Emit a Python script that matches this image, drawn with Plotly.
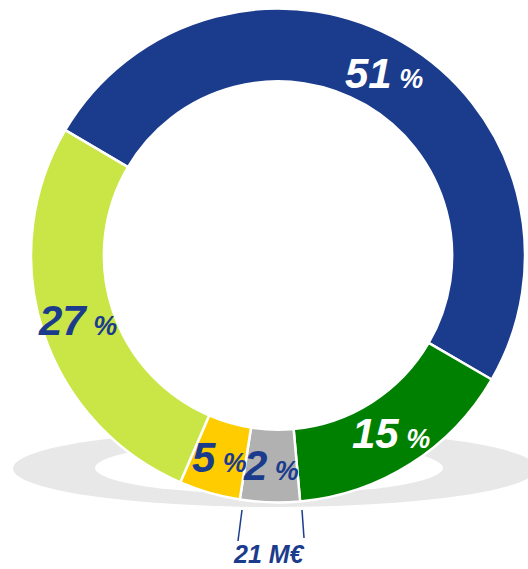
import math
import plotly.graph_objects as go

# ---- data ----
segments = ["Segment A", "Segment B", "Segment C", "Segment D", "Segment E"]
shares = [49.9, 15.2, 3.9, 4.0, 27.0]          # slice sizes
pct_labels = [51, 15, 2, 5, 27]                # printed percentages
slice_colors = ["#1B3C8C", "#008000", "#B1B1B1", "#FFCC00", "#C9E646"]
label_colors = ["#FFFFFF", "#FFFFFF", "#1B3C8C", "#1B3C8C", "#1B3C8C"]
callout_text = "21 M€"

W, H = 528, 569
DARK = "#1B3C8C"
FONT = "Liberation Sans, Arial, sans-serif"

dom_x = [31 / W, 525 / W]
dom_y = [1 - 502.5 / H, 1 - 8.5 / H]
rotation = 300.5
hole = 0.705

fig = go.Figure(go.Pie(
    labels=segments, values=shares, sort=False, direction="clockwise",
    rotation=rotation, hole=hole,
    marker=dict(colors=slice_colors, line=dict(color="white", width=2.5)),
    textinfo="none", hoverinfo="label+percent", showlegend=False,
    domain=dict(x=dom_x, y=dom_y),
))

# label positions at mid-ring, mid-angle of each slice
cx_px = (dom_x[0] + dom_x[1]) / 2 * W
cy_px = (1 - (dom_y[0] + dom_y[1]) / 2) * H
R = (dom_x[1] - dom_x[0]) * W / 2
r_mid = R * (1 + hole) / 2
total = sum(shares)
ang = rotation
annotations = []
for v, p, c in zip(shares, pct_labels, label_colors):
    a = ang + 360 * v / total / 2
    ang += 360 * v / total
    rad = math.radians(a)
    px = cx_px + r_mid * math.sin(rad)
    py = cy_px - r_mid * math.cos(rad)
    annotations.append(dict(
        x=px / W, y=1 - py / H, xref="paper", yref="paper",
        xanchor="center", yanchor="middle", showarrow=False,
        text=f"{p}<span style='font-size:27px'> %</span>",
        font=dict(family=FONT, size=42, color=c, weight="bold", style="italic"),
    ))

annotations.append(dict(
    x=269 / W, y=0, xref="paper", yref="paper",
    xanchor="center", yanchor="bottom", showarrow=False, text=callout_text,
    borderpad=0,
    font=dict(family=FONT, size=25, color=DARK, weight="bold", style="italic"),
))

def px2paper(x, y):
    return x / W, 1 - y / H

shapes = []
# floor shadow
x0, y0 = px2paper(13, 430); x1, y1 = px2paper(537, 507)
shapes.append(dict(type="circle", xref="paper", yref="paper", x0=x0, y0=y1, x1=x1, y1=y0,
                   fillcolor="#E8E8E8", line=dict(width=0), layer="below"))
x0, y0 = px2paper(95, 442); x1, y1 = px2paper(443, 494)
shapes.append(dict(type="circle", xref="paper", yref="paper", x0=x0, y0=y1, x1=x1, y1=y0,
                   fillcolor="#FFFFFF", line=dict(width=0), layer="below"))
# callout lines
for (ax, ay, bx, by) in [(242, 510, 238, 541), (302, 510, 304, 538)]:
    p0 = px2paper(ax, ay); p1 = px2paper(bx, by)
    shapes.append(dict(type="line", xref="paper", yref="paper", x0=p0[0], y0=p0[1],
                       x1=p1[0], y1=p1[1], line=dict(color=DARK, width=1.5)))

fig.update_layout(
    width=W, height=H, margin=dict(l=0, r=0, t=0, b=0),
    paper_bgcolor="white", plot_bgcolor="white",
    annotations=annotations, shapes=shapes,
)

fig.write_html(
    "out.html",
    config={"displayModeBar": False},
    post_script="document.body.style.margin='0';document.body.style.overflow='hidden';",
)
